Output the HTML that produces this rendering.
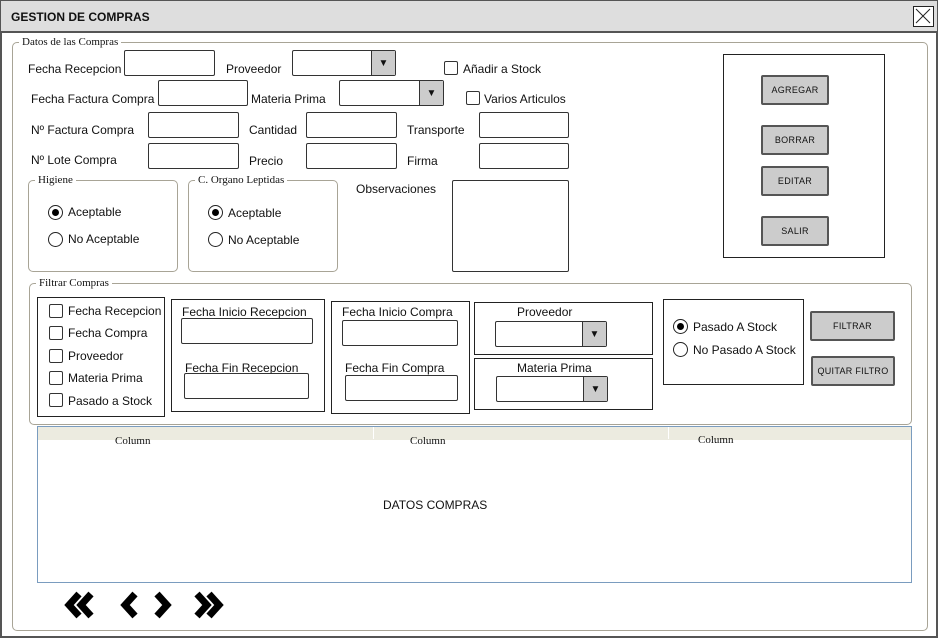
<!DOCTYPE html>
<html><head><meta charset="utf-8"><style>
*{box-sizing:border-box;margin:0;padding:0}
body{width:938px;height:638px;position:relative;background:#fff;font-family:"Liberation Sans",sans-serif;font-size:12px;color:#111;overflow:hidden}
.a{position:absolute}
.t{position:absolute;white-space:nowrap;line-height:14px}
.in{position:absolute;border:1.5px solid #333;border-radius:2px;background:#fff}
.box{position:absolute;border:1.5px solid #222;background:#fff}
.fs{position:absolute;border:1px solid #a8a496;border-radius:5px}
.lg{position:absolute;background:#fff;font-family:"Liberation Serif",serif;font-size:11px;padding:0 3px;line-height:12px}
.cb{position:absolute;width:14px;height:14px;border:1.5px solid #333;border-radius:2px;background:#fff}
.rd{position:absolute;width:15px;height:15px;border:1.3px solid #222;border-radius:50%;background:#fff}
.rd.on::after{content:"";position:absolute;left:3px;top:3px;width:7px;height:7px;border-radius:50%;background:#000}
.btn{position:absolute;background:#ccc;border:2px solid #555;border-radius:2px;font-size:9px;display:flex;align-items:center;justify-content:center;letter-spacing:.3px}
.arr{position:absolute;top:0;right:0;bottom:0;width:24px;background:#ccc;border-left:1.5px solid #333;display:flex;align-items:center;justify-content:center;font-size:10px}
.col{position:absolute;font-family:"Liberation Serif",serif;font-size:11px}
</style></head><body>
<div class="a" style="left:0;top:0;width:938px;height:638px;border:2px solid #555"></div>
<div class="a" style="top:1px;left:1px;width:936px;height:32px;background:#dedede;border-bottom:2px solid #555"></div>
<div class="t" style="left:11px;top:10px;font-weight:bold;font-size:12px">GESTION DE COMPRAS</div>
<div class="a" style="left:913px;top:6px;width:21px;height:21px;border:1.5px solid #222;background:#fff">
<svg width="18" height="18"><path d="M2 2L16 16M16 2L2 16" stroke="#222" stroke-width="1"/></svg></div>

<div class="fs" style="left:12px;top:42px;width:916px;height:589px"></div>
<div class="lg" style="left:19px;top:36px">Datos de las Compras</div>

<div class="t" style="left:28px;top:62px">Fecha Recepcion</div>
<div class="in" style="left:124px;top:50px;width:91px;height:26px"></div>
<div class="t" style="left:226px;top:62px">Proveedor</div>
<div class="in" style="left:292px;top:50px;width:104px;height:26px"><div class="arr">▼</div></div>
<div class="cb" style="left:444px;top:61px"></div>
<div class="t" style="left:463px;top:62px">Añadir a Stock</div>

<div class="t" style="left:31px;top:92px">Fecha Factura Compra</div>
<div class="in" style="left:158px;top:80px;width:90px;height:26px"></div>
<div class="t" style="left:251px;top:92px">Materia Prima</div>
<div class="in" style="left:339px;top:80px;width:105px;height:26px"><div class="arr">▼</div></div>
<div class="cb" style="left:466px;top:91px"></div>
<div class="t" style="left:484px;top:92px">Varios Articulos</div>

<div class="t" style="left:31px;top:123px">Nº Factura Compra</div>
<div class="in" style="left:148px;top:112px;width:91px;height:26px"></div>
<div class="t" style="left:249px;top:123px">Cantidad</div>
<div class="in" style="left:306px;top:112px;width:91px;height:26px"></div>
<div class="t" style="left:407px;top:123px">Transporte</div>
<div class="in" style="left:479px;top:112px;width:90px;height:26px"></div>

<div class="t" style="left:31px;top:153px">Nº Lote Compra</div>
<div class="in" style="left:148px;top:143px;width:91px;height:26px"></div>
<div class="t" style="left:249px;top:154px">Precio</div>
<div class="in" style="left:306px;top:143px;width:91px;height:26px"></div>
<div class="t" style="left:407px;top:154px">Firma</div>
<div class="in" style="left:479px;top:143px;width:90px;height:26px"></div>

<div class="fs" style="left:28px;top:180px;width:150px;height:92px"></div>
<div class="lg" style="left:35px;top:174px">Higiene</div>
<div class="rd on" style="left:48px;top:205px"></div><div class="t" style="left:68px;top:205px">Aceptable</div>
<div class="rd" style="left:48px;top:232px"></div><div class="t" style="left:68px;top:232px">No Aceptable</div>

<div class="fs" style="left:188px;top:180px;width:150px;height:92px"></div>
<div class="lg" style="left:195px;top:174px">C. Organo Leptidas</div>
<div class="rd on" style="left:208px;top:205px"></div><div class="t" style="left:228px;top:206px">Aceptable</div>
<div class="rd" style="left:208px;top:232px"></div><div class="t" style="left:228px;top:233px">No Aceptable</div>

<div class="t" style="left:356px;top:182px">Observaciones</div>
<div class="in" style="left:452px;top:180px;width:117px;height:92px"></div>

<div class="box" style="left:723px;top:54px;width:162px;height:204px"></div>
<div class="btn" style="left:761px;top:75px;width:68px;height:30px">AGREGAR</div>
<div class="btn" style="left:761px;top:125px;width:68px;height:30px">BORRAR</div>
<div class="btn" style="left:761px;top:166px;width:68px;height:30px">EDITAR</div>
<div class="btn" style="left:761px;top:216px;width:68px;height:30px">SALIR</div>

<div class="fs" style="left:29px;top:283px;width:883px;height:142px"></div>
<div class="lg" style="left:36px;top:277px">Filtrar Compras</div>

<div class="box" style="left:37px;top:297px;width:128px;height:120px"></div>
<div class="cb" style="left:49px;top:304px"></div><div class="t" style="left:68px;top:304px">Fecha Recepcion</div>
<div class="cb" style="left:49px;top:326px"></div><div class="t" style="left:68px;top:326px">Fecha Compra</div>
<div class="cb" style="left:49px;top:349px"></div><div class="t" style="left:68px;top:349px">Proveedor</div>
<div class="cb" style="left:49px;top:371px"></div><div class="t" style="left:68px;top:371px">Materia Prima</div>
<div class="cb" style="left:49px;top:393px"></div><div class="t" style="left:68px;top:394px">Pasado a Stock</div>

<div class="box" style="left:171px;top:299px;width:154px;height:113px"></div>
<div class="t" style="left:182px;top:305px">Fecha Inicio Recepcion</div>
<div class="in" style="left:181px;top:318px;width:132px;height:26px"></div>
<div class="t" style="left:185px;top:361px">Fecha Fin Recepcion</div>
<div class="in" style="left:184px;top:373px;width:125px;height:26px"></div>

<div class="box" style="left:331px;top:301px;width:139px;height:113px"></div>
<div class="t" style="left:342px;top:305px">Fecha Inicio Compra</div>
<div class="in" style="left:342px;top:320px;width:116px;height:26px"></div>
<div class="t" style="left:345px;top:361px">Fecha Fin Compra</div>
<div class="in" style="left:345px;top:375px;width:113px;height:26px"></div>

<div class="box" style="left:474px;top:302px;width:179px;height:53px"></div>
<div class="t" style="left:517px;top:305px">Proveedor</div>
<div class="in" style="left:495px;top:321px;width:112px;height:26px"><div class="arr">▼</div></div>
<div class="box" style="left:474px;top:358px;width:179px;height:52px"></div>
<div class="t" style="left:517px;top:361px">Materia Prima</div>
<div class="in" style="left:496px;top:376px;width:112px;height:26px"><div class="arr">▼</div></div>

<div class="box" style="left:663px;top:299px;width:141px;height:86px"></div>
<div class="rd on" style="left:673px;top:319px"></div><div class="t" style="left:693px;top:320px">Pasado A Stock</div>
<div class="rd" style="left:673px;top:342px"></div><div class="t" style="left:693px;top:343px">No Pasado A Stock</div>
<div class="btn" style="left:810px;top:311px;width:85px;height:30px">FILTRAR</div>
<div class="btn" style="left:811px;top:356px;width:84px;height:30px">QUITAR FILTRO</div>

<div class="a" style="left:37px;top:426px;width:875px;height:157px;border:1px solid #7a9cbf;background:#fff"></div>
<div class="a" style="left:38px;top:427px;width:873px;height:13px;background:#ecebe0"></div>
<div class="a" style="left:373px;top:427px;width:1px;height:12px;background:#fff"></div>
<div class="a" style="left:668px;top:427px;width:1px;height:12px;background:#fff"></div>
<div class="col" style="left:115px;top:435px">Column</div>
<div class="col" style="left:410px;top:435px">Column</div>
<div class="col" style="left:698px;top:434px">Column</div>
<div class="t" style="left:383px;top:498px">DATOS COMPRAS</div>

<svg class="a" style="left:60px;top:588px" width="170" height="36">
<g fill="none" stroke="#000" stroke-width="7" stroke-linejoin="miter" stroke-linecap="butt">
<path d="M19 6L9 17L19 28M31 6L21 17L31 28"/>
<path d="M75 6L65 17L75 28"/>
<path d="M97 6L107 17L97 28"/>
<path d="M137 6L147 17L137 28M149 6L159 17L149 28"/>
</g></svg>
</body></html>
